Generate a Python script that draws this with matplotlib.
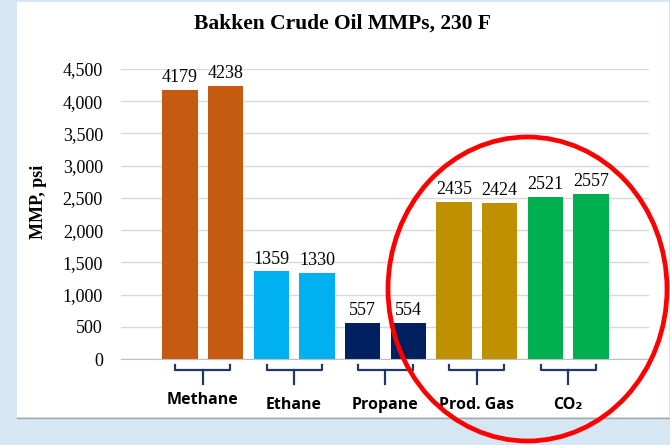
import matplotlib
matplotlib.use("Agg")
import matplotlib.pyplot as plt
import matplotlib.transforms as mtransforms
from matplotlib.patches import Rectangle, Ellipse
import numpy as np

categories = ["Methane", "Ethane", "Propane", "Prod. Gas", "CO₂"]
values = [4179, 4238, 1359, 1330, 557, 554, 2435, 2424, 2521, 2557]
group_colors = ["#C55A11", "#00B0F0", "#002060", "#BF9000", "#00B050"]
yticks = [0, 500, 1000, 1500, 2000, 2500, 3000, 3500, 4000, 4500]
title = "Bakken Crude Oil MMPs, 230 F"
ylabel = "MMP, psi"

W, H = 670, 445
fig = plt.figure(figsize=(W / 100, H / 100), dpi=100)
fig.patch.set_facecolor("#d7e6f3")

# white slide panel
fig.add_artist(Rectangle((17 / W, 1 - 417 / H), (669 - 17) / W, (417 - 2) / H,
                         transform=fig.transFigure, facecolor="white",
                         edgecolor="none", zorder=-10))
fig.add_artist(plt.Line2D([17 / W, 669 / W], [1 - 417.5 / H, 1 - 417.5 / H],
                          transform=fig.transFigure, color="#a6a6a6", lw=1, zorder=-9))

ax_left, ax_right = 121, 649
ax_bottom, ax_top = 359, 69
ax = fig.add_axes([ax_left / W, 1 - ax_bottom / H, (ax_right - ax_left) / W,
                   (ax_bottom - ax_top) / H])
ax.set_facecolor("none")
ax.set_zorder(1)

x = np.arange(len(values))
colors = [group_colors[i // 2] for i in range(len(values))]
ax.bar(x, values, width=0.77, color=colors, zorder=3)
for xi, v in zip(x, values):
    ax.text(xi, v + 60, str(v), ha="center", va="bottom",
            family="Liberation Serif", fontsize=13, color="black")

ax.set_xlim(-1.29, 9 + 1.27)
ax.set_ylim(0, 4500)
ax.set_yticks(yticks)
ax.set_yticklabels([f"{t:,}" for t in yticks], family="Liberation Serif", fontsize=13)
ax.tick_params(axis="y", length=0, pad=13)
ax.tick_params(axis="x", length=0, labelbottom=False)
ax.grid(axis="y", color="#d9d9d9", lw=1, zorder=0)
for s in ["top", "right", "left"]:
    ax.spines[s].set_visible(False)
ax.spines["bottom"].set_color("#bfbfbf")
ax.spines["bottom"].set_zorder(4)

ax.set_ylabel(ylabel, family="Liberation Serif", fontweight="bold", fontsize=13)
ax.yaxis.set_label_coords((47 - ax_left) / (ax_right - ax_left),
                          (ax_bottom - 202) / (ax_bottom - ax_top))

fig.text(343 / W, 1 - 24 / H, title, ha="center", va="center",
         family="Liberation Serif", fontweight="bold", fontsize=15.5)

# braces + category labels
trans = mtransforms.blended_transform_factory(ax.transData, ax.transAxes)
axh = ax_bottom - ax_top
y_top = -6 / axh
y_mid = -11 / axh
y_stem = -25 / axh
brace_color = "#1f3864"
for gi, name in enumerate(categories):
    c = 2 * gi + 0.5
    hw = 0.6
    ax.plot([c - hw, c - hw, c + hw, c + hw], [y_top, y_mid, y_mid, y_top],
            transform=trans, color=brace_color, lw=1.6, clip_on=False,
            solid_joinstyle="round")
    ax.plot([c, c], [y_mid, y_stem], transform=trans, color=brace_color, lw=1.6,
            clip_on=False)
    ly = -41 / axh if gi == 0 else -46 / axh
    ax.text(c, ly, name, transform=trans, ha="center", va="center",
            family=["Open Sans", "DejaVu Sans"], fontweight="bold", fontsize=11.5,
            color="black")

# red ellipse highlight
fig.add_artist(Ellipse((527.5 / W, 1 - 289 / H), 279 / W, 304 / H,
                       transform=fig.transFigure, fill=False,
                       edgecolor="#ff0000", lw=3.4, zorder=10))

fig.savefig("out.png", dpi=100, facecolor=fig.get_facecolor())
